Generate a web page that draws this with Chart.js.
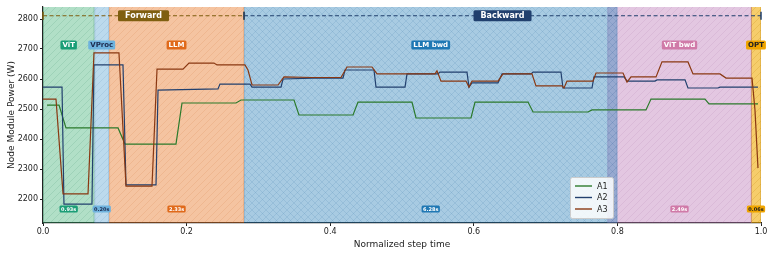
<!DOCTYPE html>
<html>
<head>
<meta charset="utf-8">
<script src="https://cdn.jsdelivr.net/npm/chart.js@4.4.1/dist/chart.umd.min.js"></script>
<style>
	html, body { margin: 0; padding: 0; background: #fff; }
	#wrap { width: 774px; height: 254px; position: relative; }
</style>
</head>
<body>
<div id="wrap"><canvas id="power"></canvas></div>
<script>
// power traces (normalized time, watts)
const a1_x = [0.0056, 0.0223, 0.032, 0.1045, 0.1142, 0.1852, 0.1936, 0.2688, 0.2758, 0.3496, 0.3565, 0.4318, 0.4387, 0.5139, 0.5195, 0.5961, 0.6017, 0.6755, 0.6825, 0.7591, 0.7646, 0.8398, 0.8468, 0.922, 0.9276, 0.9958];
const a1_y = [2513, 2513, 2437, 2437, 2383, 2383, 2520, 2520, 2530, 2530, 2480, 2480, 2523, 2523, 2470, 2470, 2523, 2523, 2490, 2490, 2497, 2497, 2533, 2533, 2517, 2517];

const a2_x = [0, 0.0265, 0.0292, 0.0682, 0.071, 0.1114, 0.1156, 0.1574, 0.1602, 0.2437, 0.2465, 0.2883, 0.2911, 0.3315, 0.3343, 0.376, 0.4178, 0.4206, 0.461, 0.4638, 0.5042, 0.507, 0.5501, 0.5529, 0.5905, 0.5933, 0.5975, 0.6337, 0.6393, 0.6797, 0.6825, 0.7214, 0.7242, 0.7646, 0.7674, 0.8092, 0.8134, 0.8524, 0.8552, 0.8942, 0.8983, 0.9401, 0.9429, 0.9958];
const a2_y = [2573, 2573, 2183, 2183, 2647, 2647, 2247, 2247, 2563, 2567, 2583, 2583, 2573, 2573, 2600, 2603, 2603, 2630, 2630, 2573, 2573, 2617, 2617, 2623, 2623, 2573, 2587, 2587, 2617, 2617, 2623, 2623, 2570, 2570, 2607, 2607, 2593, 2593, 2597, 2597, 2570, 2570, 2573, 2573];

const a3_x = [0, 0.0181, 0.0279, 0.0627, 0.071, 0.1058, 0.1156, 0.1518, 0.1588, 0.195, 0.2033, 0.2382, 0.2423, 0.2813, 0.2855, 0.2911, 0.3273, 0.3357, 0.3747, 0.415, 0.4234, 0.4582, 0.4652, 0.546, 0.5487, 0.5543, 0.5891, 0.5933, 0.5975, 0.6337, 0.6407, 0.681, 0.6866, 0.7228, 0.7256, 0.7298, 0.766, 0.7702, 0.8078, 0.8134, 0.819, 0.8538, 0.8621, 0.8983, 0.9053, 0.9429, 0.9513, 0.9875, 0.9916, 0.9958];
const a3_y = [2533, 2533, 2217, 2217, 2687, 2687, 2243, 2243, 2633, 2633, 2653, 2653, 2647, 2647, 2630, 2580, 2580, 2607, 2605, 2605, 2640, 2640, 2617, 2617, 2627, 2593, 2593, 2573, 2593, 2593, 2617, 2617, 2577, 2577, 2570, 2593, 2593, 2620, 2620, 2590, 2607, 2607, 2657, 2657, 2617, 2617, 2603, 2603, 2497, 2303];

// step phases
const phase_names = ['ViT', 'VProc', 'LLM', 'LLM bwd', 'ViT bwd', 'OPT'];
const phase_start = [0, 0.0715, 0.092, 0.28, 0.786, 0.986];
const phase_end = [0.0715, 0.092, 0.28, 0.80, 0.987, 1.0];
const phase_times = ['0.93s', '0.20s', '2.33s', '6.28s', '2.49s', '0.06s'];

const pass_names = ['Forward', 'Backward'];
const pass_start = [0, 0.28];
const pass_end = [0.28, 1.0];

const x_ticks = [0, 0.2, 0.4, 0.6, 0.8, 1.0];
const y_ticks = [2200, 2300, 2400, 2500, 2600, 2700, 2800];

// styling
const phase_fill = ['rgba(40,165,100,0.36)', 'rgba(107,174,214,0.45)', 'rgba(230,112,26,0.41)', 'rgba(31,120,180,0.39)', 'rgba(185,115,180,0.40)', 'rgba(240,168,0,0.58)'];
const phase_hatch = ['rgba(20,120,80,0.18)', 'rgba(60,120,170,0.18)', 'rgba(190,90,20,0.18)', 'rgba(20,90,150,0.16)', 'rgba(150,80,140,0.16)', 'rgba(190,130,0,0.3)'];
const phase_cross = [false, false, false, true, false, false];
const phase_tag = ['#1b9e77', '#6fb3de', '#e06a1b', '#1f78b4', '#d07aa8', '#f0a500'];
const phase_ink = ['#fff', '#1d2b4f', '#fff', '#fff', '#fff', '#222'];
const pass_color = ['#7f5f10', '#21406e'];

const FONT = '"DejaVu Sans", sans-serif';

function make_hatch(ctx, color, cross) {
	let c = document.createElement('canvas');
	c.width = 7; c.height = 7;
	let g = c.getContext('2d');
	g.strokeStyle = color;
	g.lineWidth = 0.7;
	g.beginPath();
	g.moveTo(-1, 8); g.lineTo(8, -1);
	if (cross) { g.moveTo(-1, -1); g.lineTo(8, 8); }
	g.stroke();
	return ctx.createPattern(c, 'repeat');
}

function tag(ctx, text, cx, cy, bg, ink, size, padx, pady) {
	ctx.font = 'bold ' + size + 'px ' + FONT;
	let w = ctx.measureText(text).width + 2 * padx;
	let h = size + 2 * pady;
	ctx.fillStyle = bg;
	ctx.beginPath();
	ctx.roundRect(cx - w / 2, cy - h / 2, w, h, 1.5);
	ctx.fill();
	ctx.fillStyle = ink;
	ctx.textAlign = 'center';
	ctx.textBaseline = 'middle';
	ctx.fillText(text, cx, cy + 0.5);
}

const phases_plugin = {
	id: 'phases',
	beforeDatasetsDraw(chart) {
		const {ctx, chartArea, scales: {x}} = chart;
		ctx.save();
		// later phases first, so the backward blue sits over the pink where they meet
		for (let i = phase_names.length - 1; i >= 0; i--) {
			let x0 = x.getPixelForValue(phase_start[i]);
			let x1 = x.getPixelForValue(phase_end[i]);
			ctx.fillStyle = phase_fill[i];
			ctx.fillRect(x0, chartArea.top, x1 - x0, chartArea.bottom - chartArea.top);
			ctx.fillStyle = make_hatch(ctx, phase_hatch[i], phase_cross[i]);
			ctx.fillRect(x0, chartArea.top, x1 - x0, chartArea.bottom - chartArea.top);
			ctx.strokeStyle = phase_hatch[i];
			ctx.lineWidth = 1;
			ctx.beginPath();
			ctx.moveTo(x0 + 0.5, chartArea.top); ctx.lineTo(x0 + 0.5, chartArea.bottom);
			ctx.moveTo(x1 - 0.5, chartArea.top); ctx.lineTo(x1 - 0.5, chartArea.bottom);
			ctx.stroke();
		}
		ctx.restore();
	},
	afterDatasetsDraw(chart) {
		const {ctx, scales: {x, y}} = chart;
		ctx.save();
		// forward / backward spans
		let ya = y.getPixelForValue(2811);
		pass_names.forEach((name, i) => {
			let x0 = x.getPixelForValue(pass_start[i]);
			let x1 = x.getPixelForValue(pass_end[i]);
			ctx.strokeStyle = pass_color[i];
			ctx.lineWidth = 1.1;
			ctx.setLineDash([4, 2.5]);
			ctx.beginPath();
			ctx.moveTo(x0, ya); ctx.lineTo(x1, ya);
			ctx.stroke();
			ctx.setLineDash([]);
			ctx.lineWidth = 1.5;
			ctx.beginPath();
			ctx.moveTo(x0, ya - 4); ctx.lineTo(x0, ya + 4);
			ctx.moveTo(x1, ya - 4); ctx.lineTo(x1, ya + 4);
			ctx.stroke();
			tag(ctx, name, (x0 + x1) / 2, ya, pass_color[i], '#fff', 8, 7, 1.5);
		});
		// phase names and durations
		let yn = y.getPixelForValue(2713);
		let yd = y.getPixelForValue(2167);
		phase_names.forEach((name, i) => {
			let cx = x.getPixelForValue((phase_start[i] + phase_end[i]) / 2);
			tag(ctx, name, cx, yn, phase_tag[i], phase_ink[i], 7, 2, 1);
			tag(ctx, phase_times[i], cx, yd, phase_tag[i], phase_ink[i], 5, 1.5, 1);
		});
		ctx.restore();
	},
	afterDraw(chart) {
		// legend box, inside the plot
		const {ctx} = chart;
		ctx.save();
		ctx.fillStyle = 'rgba(255,255,255,0.85)';
		ctx.strokeStyle = '#cccccc';
		ctx.lineWidth = 1;
		ctx.beginPath();
		ctx.roundRect(570.5, 177.5, 43, 41, 2);
		ctx.fill();
		ctx.stroke();
		chart.data.datasets.forEach((ds, i) => {
			let ly = 186 + i * 11.5;
			ctx.strokeStyle = ds.borderColor;
			ctx.lineWidth = 1.4;
			ctx.beginPath();
			ctx.moveTo(575, ly); ctx.lineTo(592, ly);
			ctx.stroke();
			ctx.fillStyle = '#222';
			ctx.font = '8px ' + FONT;
			ctx.textAlign = 'left';
			ctx.textBaseline = 'middle';
			ctx.fillText(ds.label, 597, ly + 0.5);
		});
		ctx.restore();
	}
};

function pts(xs, ys) {
	return xs.map((v, i) => ({x: v, y: ys[i]}));
}

const line_opts = {pointRadius: 0, borderWidth: 1.2, tension: 0, fill: false};

new Chart(document.getElementById('power'), {
	type: 'line',
	data: {
		datasets: [
			Object.assign({label: 'A1', data: pts(a1_x, a1_y), borderColor: '#2b7a2b', order: 3}, line_opts),
			Object.assign({label: 'A2', data: pts(a2_x, a2_y), borderColor: '#22406e', order: 2}, line_opts),
			Object.assign({label: 'A3', data: pts(a3_x, a3_y), borderColor: '#8a3812', order: 1}, line_opts)
		]
	},
	options: {
		responsive: true,
		maintainAspectRatio: false,
		animation: false,
		devicePixelRatio: 1,
		layout: {padding: {left: 6, top: 7, right: 13, bottom: 4}},
		plugins: {legend: {display: false}, tooltip: {enabled: false}},
		scales: {
			x: {
				type: 'linear', min: 0, max: 1,
				afterBuildTicks: s => { s.ticks = x_ticks.map(v => ({value: v})); },
				afterFit: s => { s.height = 27; },
				ticks: {color: '#222', font: {family: FONT, size: 8}, padding: 1, maxRotation: 0,
					callback: v => v.toFixed(1)},
				grid: {display: true, drawOnChartArea: false, drawTicks: true, tickLength: 3, color: '#222'},
				border: {display: true, color: '#222', width: 1.2},
				title: {display: true, text: 'Normalized step time', color: '#222', font: {family: FONT, size: 9}, padding: {top: 1, bottom: 0}}
			},
			y: {
				type: 'linear', min: 2120, max: 2840,
				afterBuildTicks: s => { s.ticks = y_ticks.map(v => ({value: v})); },
				afterFit: s => { s.width = 37; },
				ticks: {color: '#222', font: {family: FONT, size: 8}, padding: 2, callback: v => String(v)},
				grid: {display: true, drawOnChartArea: false, drawTicks: true, tickLength: 3, color: '#222'},
				border: {display: true, color: '#222', width: 1.2},
				title: {display: true, text: 'Node Module Power (W)', color: '#222', font: {family: FONT, size: 9}, padding: {top: 0, bottom: 2}}
			}
		}
	},
	plugins: [phases_plugin]
});
</script>
</body>
</html>
